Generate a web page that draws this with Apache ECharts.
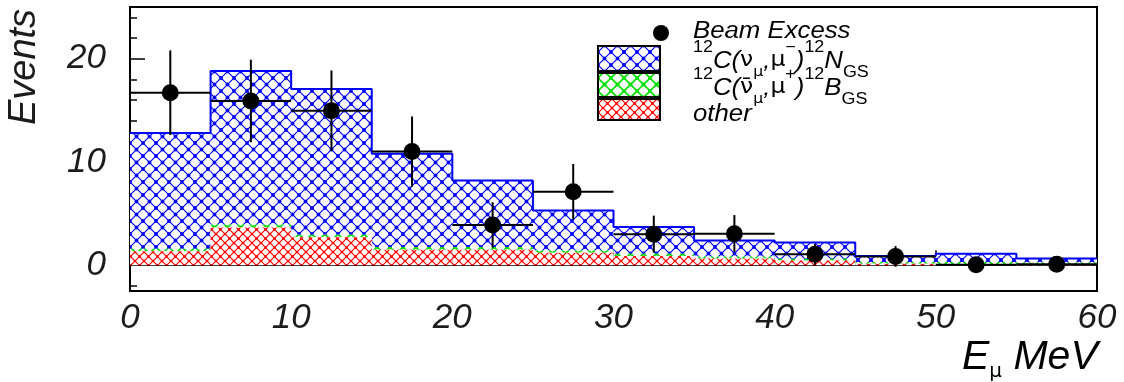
<!DOCTYPE html>
<html>
<head>
<meta charset="utf-8">
<title>Beam Excess vs E_mu</title>
<script src="https://cdn.jsdelivr.net/npm/echarts@6/dist/echarts.min.js"></script>
<style>
html, body { margin: 0; padding: 0; background: #fff; }
#chart { width: 1124px; height: 382px; }
</style>
</head>
<body>
<div id="chart"></div>
<script>
// histogram bins: low edges in MeV, 5 MeV wide
var binLow = [0, 5, 10, 15, 20, 25, 30, 35, 40, 45, 50, 55];
var binWidth = 5;
var xMax = 60;

// MC components (stacked): other, 12C(nubar,mu+)12B_GS, 12C(nu,mu-)12N_GS
var otherVals = [1.35, 3.65, 2.7, 1.5, 1.5, 1.2, 0.9, 0.65, 0.45, 0.15, 0.05, 0.05];
var bgsVals = [0.25, 0.28, 0.25, 0.27, 0.25, 0.22, 0.2, 0.2, 0.17, 0.15, 0.25, 0.2];
var ngsVals = [11.2, 14.87, 14.1, 9.03, 6.45, 3.88, 2.6, 1.55, 1.58, 0.6, 0.8, 0.4];

// beam excess data points
var beamX = [2.5, 7.5, 12.5, 17.5, 22.5, 27.5, 32.5, 37.5, 42.5, 47.5, 52.5, 57.5];
var beamY = [16.7, 15.9, 14.95, 11.0, 3.9, 7.1, 3.0, 3.05, 1.05, 0.85, 0.05, 0.1];
var beamErr = [4.1, 4.0, 3.9, 3.4, 2.2, 2.7, 1.8, 1.8, 1.0, 1.0, 0.5, 0.5];

// axis ticks
var yMajorTicks = [0, 10, 20];
var yMinorTicks = [-2, 2, 4, 6, 8, 12, 14, 16, 18, 22, 24];

var font = 'Liberation Sans';
var ink = '#1c1c1c';

// ROOT-like cross hatch, white background so layers cover each other
function hatch(color, cell, lw, dot) {
    var c = document.createElement('canvas');
    c.width = c.height = cell;
    var ctx = c.getContext('2d');
    ctx.fillStyle = '#fff';
    ctx.fillRect(0, 0, cell, cell);
    ctx.strokeStyle = color;
    ctx.lineWidth = lw;
    ctx.beginPath();
    ctx.moveTo(0, 0); ctx.lineTo(cell, cell);
    ctx.moveTo(cell, 0); ctx.lineTo(0, cell);
    ctx.stroke();
    ctx.fillStyle = color;
    [[cell / 2, cell / 2], [0, 0], [cell, 0], [0, cell], [cell, cell]].forEach(function (p) {
        ctx.beginPath();
        ctx.arc(p[0], p[1], dot, 0, Math.PI * 2);
        ctx.fill();
    });
    return { image: c, repeat: 'repeat' };
}

var bluePat = hatch('#0000ff', 13, 1.2, 1.9);
var greenPat = hatch('#00e000', 13, 1.6, 2);
var redPat = hatch('#ff0000', 9, 1.2, 1.3);

// stacking: running bottoms/tops per bin
var lvl1 = otherVals;
var lvl2 = otherVals.map(function (v, i) { return v + bgsVals[i]; });
var lvl3 = lvl2.map(function (v, i) { return v + ngsVals[i]; });
var lvl0 = otherVals.map(function () { return 0; });

function histSeries(name, lower, upper, pat) {
    return {
        type: 'custom',
        name: name,
        z: 2,
        silent: true,
        data: binLow.map(function (x, i) { return [x, lower[i], upper[i]]; }),
        encode: { x: 0, y: 2 },
        renderItem: function (params, api) {
            var x = api.value(0);
            var p0 = api.coord([x, api.value(2)]);
            var p1 = api.coord([x + binWidth, api.value(1)]);
            return {
                type: 'rect',
                shape: { x: p0[0], y: p0[1], width: p1[0] - p0[0], height: p1[1] - p0[1] },
                style: { fill: pat }
            };
        }
    };
}

function stepData(vals) {
    var d = binLow.map(function (x, i) { return [x, vals[i]]; });
    d.push([xMax, vals[vals.length - 1]]);
    return d;
}

// rich text styles for the legend lines
var legRich = {
    m: { fontFamily: font, fontStyle: 'italic', fontSize: 23, lineHeight: 24, padding: [10, 0, 0, 0], verticalAlign: 'top', color: ink },
    g: { fontFamily: 'DejaVu Sans', fontSize: 21, lineHeight: 24, padding: [10, 0, 0, 0], verticalAlign: 'top', color: ink },
    sup: { fontFamily: font, fontSize: 16, lineHeight: 16, verticalAlign: 'top', color: ink },
    sub: { fontFamily: font, fontSize: 16, lineHeight: 16, padding: [25, 0, 0, 0], verticalAlign: 'top', color: ink },
    gsub: { fontFamily: 'DejaVu Sans', fontSize: 14, lineHeight: 16, padding: [25, 0, 0, 0], verticalAlign: 'top', color: ink }
};

function legText(top, str) {
    return {
        type: 'text', x: 693, y: top, scaleX: 1.12, silent: true, z: 100,
        style: { text: str, rich: legRich, align: 'left', verticalAlign: 'top' }
    };
}

var chart = echarts.init(document.getElementById('chart'));

var option = {
    animation: false,
    backgroundColor: '#fff',
    grid: {
        left: 130, right: 27, top: 7, bottom: 91,
        show: true, borderColor: '#000', borderWidth: 2,
        backgroundColor: 'transparent',
        outerBoundsMode: 'none'
    },
    xAxis: {
        type: 'value',
        min: 0, max: xMax, interval: 10,
        axisLine: { lineStyle: { color: '#000', width: 2 } },
        axisTick: { inside: true, length: 15, lineStyle: { color: '#000', width: 1.5 } },
        minorTick: { show: true, splitNumber: 5, length: 7, lineStyle: { color: '#000', width: 1.5 } },
        axisLabel: { fontFamily: font, fontStyle: 'italic', fontSize: 35, color: ink, margin: 10, showMinLabel: true, showMaxLabel: true },
        splitLine: { show: false }
    },
    yAxis: [
        {
            type: 'value',
            min: -2.5, max: 25,
            axisLine: { show: true, lineStyle: { color: '#000', width: 2 } },
            axisTick: { inside: true, length: 15, customValues: yMajorTicks, lineStyle: { color: '#000', width: 1.5 } },
            axisLabel: { customValues: yMajorTicks, fontFamily: font, fontStyle: 'italic', fontSize: 35, color: ink, margin: 24 },
            splitLine: { show: false }
        },
        {
            type: 'value',
            position: 'left',
            min: -2.5, max: 25,
            axisLine: { show: false },
            axisTick: { show: true, inside: true, length: 7, customValues: yMinorTicks, lineStyle: { color: '#000', width: 1.5 } },
            axisLabel: { show: false },
            splitLine: { show: false }
        }
    ],
    series: [
        histSeries('12C(nu,mu-)12N_GS', lvl2, lvl3, bluePat),
        histSeries('12C(nubar,mu+)12B_GS', lvl1, lvl2, greenPat),
        histSeries('other', lvl0, lvl1, redPat),
        {
            type: 'line',
            name: 'total outline',
            step: 'end',
            z: 2,
            silent: true,
            showSymbol: false,
            data: stepData(lvl3),
            lineStyle: { color: '#0000ff', width: 2 }
        },
        {
            type: 'custom',
            name: 'errors',
            z: 3,
            silent: true,
            data: beamX.map(function (x, i) { return [x, beamY[i], beamErr[i]]; }),
            encode: { x: 0, y: 1 },
            renderItem: function (params, api) {
                var x = api.value(0), y = api.value(1), e = api.value(2);
                var l = api.coord([x - binWidth / 2, y]);
                var r = api.coord([x + binWidth / 2, y]);
                var t = api.coord([x, y + e]);
                var b = api.coord([x, y - e]);
                var st = { stroke: '#000', lineWidth: 2 };
                return {
                    type: 'group',
                    children: [
                        { type: 'line', shape: { x1: l[0], y1: l[1], x2: r[0], y2: r[1] }, style: st },
                        { type: 'line', shape: { x1: t[0], y1: t[1], x2: b[0], y2: b[1] }, style: st }
                    ]
                };
            }
        },
        {
            type: 'scatter',
            name: 'Beam Excess',
            z: 4,
            symbolSize: 17,
            itemStyle: { color: '#000', opacity: 1 },
            data: beamX.map(function (x, i) { return [x, beamY[i]]; })
        }
    ],
    graphic: [
        // y axis title
        {
            type: 'text', x: 24, y: 67, rotation: Math.PI / 2, silent: true, z: 100,
            style: { text: 'Events', fontFamily: font, fontStyle: 'italic', fontSize: 38, fill: ink, align: 'center', verticalAlign: 'middle' }
        },
        // x axis title
        {
            type: 'text', x: 962, y: 337, silent: true, z: 100,
            style: {
                text: '{m|E}{sub|μ}{m| MeV}',
                align: 'left', verticalAlign: 'top',
                rich: {
                    m: { fontFamily: font, fontStyle: 'italic', fontSize: 41, lineHeight: 44, verticalAlign: 'top', color: ink },
                    sub: { fontFamily: 'DejaVu Sans', fontSize: 20, lineHeight: 22, padding: [25, 0, 0, 0], verticalAlign: 'top', color: ink }
                }
            }
        },
        // legend
        { type: 'circle', z: 100, shape: { cx: 661, cy: 33, r: 8 }, style: { fill: '#000' }, silent: true },
        { type: 'rect', z: 100, shape: { x: 598, y: 46, width: 62, height: 25 }, style: { fill: bluePat, stroke: '#000', lineWidth: 2 }, silent: true },
        { type: 'rect', z: 100, shape: { x: 598, y: 73, width: 62, height: 24 }, style: { fill: greenPat, stroke: '#000', lineWidth: 2 }, silent: true },
        { type: 'rect', z: 100, shape: { x: 598, y: 99, width: 62, height: 21 }, style: { fill: redPat, stroke: '#000', lineWidth: 2 }, silent: true },
        legText(10, '{m|Beam Excess}'),
        legText(40, '{sup|12}{m|C(}{g|ν}{gsub|μ}{m|,}{g|μ}{sup|−}{m|)}{sup|12}{m|N}{sub|GS}'),
        legText(67, '{sup|12}{m|C(}{g|ν̄}{gsub|μ}{m|,}{g|μ}{sup|+}{m|)}{sup|12}{m|B}{sub|GS}'),
        legText(93, '{m|other}')
    ]
};

chart.setOption(option);
</script>
</body>
</html>
